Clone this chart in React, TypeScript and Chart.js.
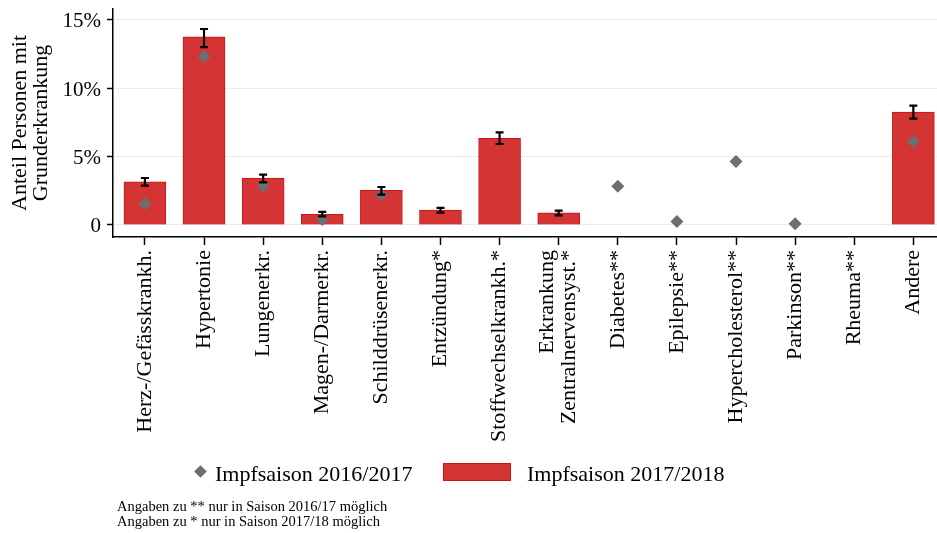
import React, { useEffect, useRef } from "react";
import { Chart, registerables } from "chart.js";

Chart.register(...registerables);

// ---------- data ----------
const categories: (string | string[])[] = [
  "Herz-/Gefässkrankh.",
  "Hypertonie",
  "Lungenerkr.",
  "Magen-/Darmerkr.",
  "Schilddrüsenerkr.",
  "Entzündung*",
  "Stoffwechselkrankh.*",
  ["Erkrankung", "Zentralnervensyst.*"],
  "Diabetes**",
  "Epilepsie**",
  "Hypercholesterol**",
  "Parkinson**",
  "Rheuma**",
  "Andere",
];

// Impfsaison 2017/2018 (bars) with confidence interval
const season1718 = [3.14, 13.74, 3.43, 0.77, 2.53, 1.09, 6.32, 0.88, null, null, null, null, null, 8.25];
const ci1718Low = [2.87, 12.99, 3.11, 0.63, 2.21, 0.9, 5.91, 0.7, null, null, null, null, null, 7.76];
const ci1718High = [3.43, 14.31, 3.67, 0.95, 2.77, 1.24, 6.76, 1.04, null, null, null, null, null, 8.71];

// Impfsaison 2016/2017 (diamonds)
const season1617 = [1.55, 12.31, 2.82, 0.39, 2.21, null, null, null, 2.82, 0.26, 4.64, 0.09, null, 6.1];

const yTickValues = [0, 5, 10, 15];
const yAxisTitle = ["Anteil Personen mit", "Grunderkrankung"];
const legendLabels = ["Impfsaison 2016/2017", "Impfsaison 2017/2018"];
const footnotes = [
  "Angaben zu ** nur in Saison 2016/17 möglich",
  "Angaben zu * nur in Saison 2017/18 möglich",
];

// ---------- style ----------
const FONT = "'Liberation Serif', 'Times New Roman', Times, serif";
const BAR_FILL = "#d43434";
const BAR_BORDER = "#c81414";
const DIAMOND = "#6e6e6e";
const W = 937;
const H = 533;

const errorBarPlugin = {
  id: "errorBars",
  afterDatasetsDraw(chart: any) {
    const { ctx, scales } = chart;
    const xs = scales.x;
    const ys = scales.y;
    ctx.save();
    ctx.strokeStyle = "#000";
    ctx.lineWidth = 2.2;
    ci1718Low.forEach((lo, i) => {
      const hi = ci1718High[i];
      if (lo == null || hi == null) return;
      const px = xs.getPixelForValue(i);
      const y1 = ys.getPixelForValue(lo);
      const y2 = ys.getPixelForValue(hi);
      ctx.beginPath();
      ctx.moveTo(px, y1);
      ctx.lineTo(px, y2);
      ctx.moveTo(px - 4, y1);
      ctx.lineTo(px + 4, y1);
      ctx.moveTo(px - 4, y2);
      ctx.lineTo(px + 4, y2);
      ctx.stroke();
    });
    ctx.restore();
  },
};

export default function App() {
  const canvasRef = useRef<HTMLCanvasElement | null>(null);

  useEffect(() => {
    if (!canvasRef.current) return;
    const chart = new Chart(canvasRef.current, {
      type: "bar",
      data: {
        datasets: [
          {
            type: "line",
            label: legendLabels[0],
            data: season1617.map((y, i) => ({ x: i, y })),
            showLine: false,
            pointStyle: "rectRot",
            pointRadius: 6.5,
            pointBackgroundColor: DIAMOND,
            pointBorderWidth: 0,
            borderColor: DIAMOND,
            backgroundColor: DIAMOND,
            clip: false,
          } as any,
          {
            type: "bar",
            label: legendLabels[1],
            data: season1718.map((y, i) => ({ x: i, y })),
            backgroundColor: BAR_FILL,
            borderColor: BAR_BORDER,
            borderWidth: 1,
            barThickness: "flex",
            barPercentage: 0.71,
            categoryPercentage: 1,
          } as any,
        ],
      },
      options: {
        responsive: false,
        animation: false,
        devicePixelRatio: 1,
        layout: { autoPadding: false, padding: { top: 9, left: 0, right: 0, bottom: 0 } },
        plugins: {
          legend: { display: false },
          tooltip: { enabled: false },
        },
        scales: {
          x: {
            type: "linear",
            offset: false,
            min: -0.54,
            max: 13.4,
            afterBuildTicks: (scale: any) => {
              const t: { value: number }[] = [];
              categories.forEach((c, i) => {
                if (Array.isArray(c)) t.push({ value: i - 0.186 });
                t.push({ value: i });
              });
              scale.ticks = t;
            },
            afterFit: (scale: any) => {
              scale.height = H - 237;
              scale.paddingRight = 0;
              scale.paddingLeft = 0;
            },
            grid: {
              offset: false,
              drawOnChartArea: false,
              drawTicks: true,
              tickLength: 8,
              tickWidth: 1.5,
              tickColor: (ctx: any) =>
                ctx.tick && Number.isInteger(ctx.tick.value) ? "#000" : "rgba(0,0,0,0)",
            },
            border: { display: true, color: "#000", width: 1.5 },
            ticks: {
              autoSkip: false,
              minRotation: 90,
              maxRotation: 90,
              padding: 5,
              color: "#000",
              font: { family: FONT, size: 22, lineHeight: 1.0 },
              callback: (value: any) => {
                const v = Number(value);
                const c = categories[Math.round(v)];
                if (Number.isInteger(v) && Array.isArray(c)) return "";
                return c as any;
              },
            },
          },
          y: {
            type: "linear",
            min: -0.88,
            max: 15.77,
            afterBuildTicks: (scale: any) => {
              scale.ticks = yTickValues.map((v) => ({ value: v }));
            },
            afterFit: (scale: any) => {
              scale.width = 113;
              scale.paddingTop = 0;
              scale.paddingBottom = 0;
            },
            grid: {
              color: "#ebebeb",
              lineWidth: 1,
              drawTicks: true,
              tickLength: 6,
              tickColor: "#000",
              tickWidth: 1.5,
            },
            border: { display: true, color: "#000", width: 1.5 },
            ticks: {
              padding: 6,
              labelOffset: 2,
              color: "#000",
              font: { family: FONT, size: 21 },
              callback: (value: any) => (Number(value) === 0 ? "0" : `${value}%`),
            },
            title: {
              display: true,
              text: yAxisTitle,
              color: "#000",
              font: { family: FONT, size: 22, lineHeight: 0.977 },
              padding: { top: 9, bottom: 0 },
            },
          },
        },
      },
      plugins: [errorBarPlugin],
    } as any);
    return () => chart.destroy();
  }, []);

  const textBase: React.CSSProperties = {
    position: "absolute",
    fontFamily: FONT,
    color: "#000",
    whiteSpace: "nowrap",
  };

  return (
    <div
      style={{
        position: "fixed",
        left: 0,
        top: 0,
        width: W,
        height: H,
        background: "#fff",
        overflow: "hidden",
      }}
    >
      <canvas ref={canvasRef} width={W} height={H} style={{ display: "block" }} />
      {/* legend */}
      <div
        style={{
          position: "absolute",
          left: 196,
          top: 467,
          width: 9,
          height: 9,
          background: DIAMOND,
          transform: "rotate(45deg)",
        }}
      />
      <div style={{ ...textBase, left: 215, top: 462.5, fontSize: 22, lineHeight: "22px" }}>
        {legendLabels[0]}
      </div>
      <div
        style={{
          position: "absolute",
          left: 443,
          top: 463,
          width: 66,
          height: 16,
          background: BAR_FILL,
          border: `1px solid ${BAR_BORDER}`,
        }}
      />
      <div style={{ ...textBase, left: 527, top: 462.5, fontSize: 22, lineHeight: "22px" }}>
        {legendLabels[1]}
      </div>
      {/* footnotes */}
      <div style={{ ...textBase, left: 117, top: 498.5, fontSize: 14.5, lineHeight: "15px" }}>
        {footnotes.map((f, i) => (
          <div key={i}>{f}</div>
        ))}
      </div>
    </div>
  );
}
